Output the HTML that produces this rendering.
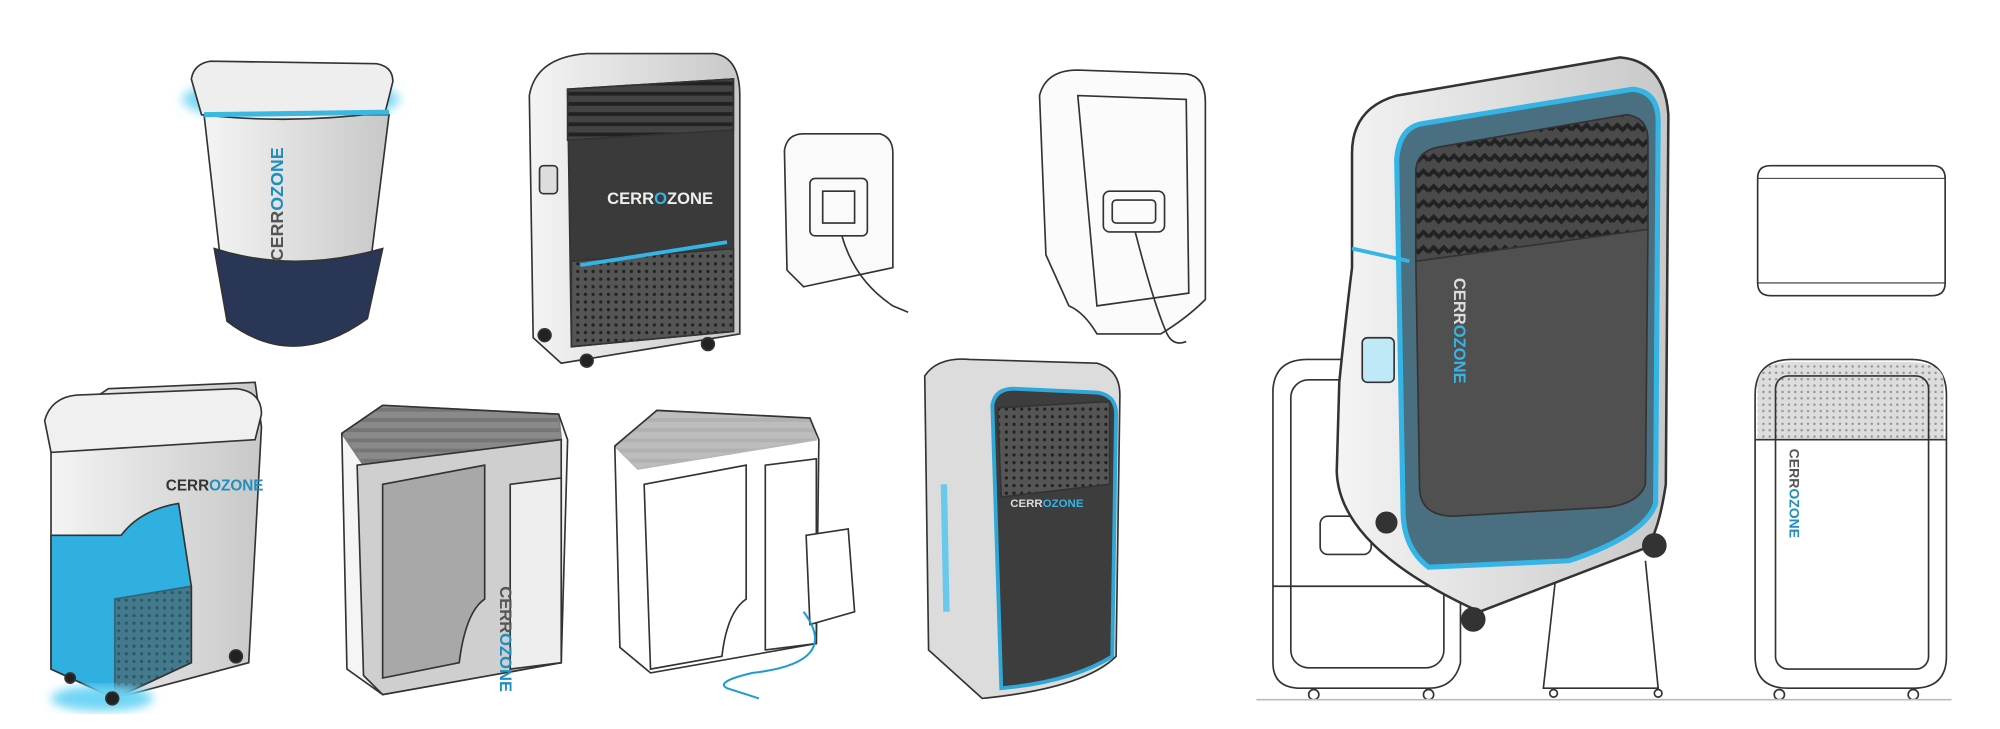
<!DOCTYPE html>
<html><head><meta charset="utf-8"><style>
html,body{margin:0;padding:0;background:#fff;width:2000px;height:729px;overflow:hidden}
svg{display:block}
text{font-family:"Liberation Sans",sans-serif;font-weight:bold}
</style></head><body>
<svg width="2000" height="729" viewBox="0 0 1568 572" preserveAspectRatio="none" xmlns="http://www.w3.org/2000/svg">
<defs>
<pattern id="mesh" width="6" height="6" patternUnits="userSpaceOnUse"><rect width="6" height="6" fill="#555"/><circle cx="3" cy="3" r="1.3" fill="#222"/></pattern>
<pattern id="lmesh" width="5" height="5" patternUnits="userSpaceOnUse"><rect width="5" height="5" fill="#ddd"/><circle cx="2.5" cy="2.5" r="1" fill="#999"/></pattern>
<pattern id="wave" width="16" height="12" patternUnits="userSpaceOnUse"><rect width="16" height="12" fill="#4a4a4a"/><path d="M0 6 L4 2 L8 6 L12 2 L16 6" stroke="#222" stroke-width="3" fill="none"/></pattern>
<pattern id="slat" width="10" height="8" patternUnits="userSpaceOnUse"><rect width="10" height="8" fill="#444"/><rect width="10" height="3" fill="#222"/></pattern>
<linearGradient id="grey" x1="0" x2="1"><stop offset="0" stop-color="#f4f4f4"/><stop offset="1" stop-color="#c8c8c8"/></linearGradient>
<filter id="blur"><feGaussianBlur stdDeviation="4"/></filter>
</defs>
<g stroke="#333" stroke-width="1.3" fill="none">

<!-- 1 top-left cylinder -->
<ellipse cx="228" cy="78" rx="85" ry="18" fill="#7fd8f3" stroke="none" filter="url(#blur)"/>
<path d="M160 90 L178 250 Q230 290 285 250 L305 90 Z" fill="url(#grey)"/>
<path d="M168 195 Q230 215 300 195 L288 250 Q230 292 178 252 Z" fill="#2a3656"/>
<path d="M150 62 Q152 50 165 48 L295 50 Q308 52 308 64 L302 88 Q230 98 158 90 Z" fill="#eeeeee"/>
<path d="M160 90 L305 88" stroke="#3bb7e0" stroke-width="4"/>
<text x="0" y="0" transform="translate(222 205) rotate(-90)" font-size="14" fill="#555" stroke="none">CERR<tspan fill="#1e8fc0">OZONE</tspan></text>

<!-- 2 tall unit -->
<path d="M415 75 Q420 45 460 42 L560 42 Q580 45 580 75 L580 262 L440 285 L418 265 Z" fill="url(#grey)"/>
<path d="M445 70 L575 62 L575 260 L448 272 Z" fill="#3a3a3a"/>
<path d="M445 70 L575 62 L575 102 L445 110 Z" fill="url(#slat)"/>
<path d="M448 205 L575 195 L575 260 L448 272 Z" fill="url(#mesh)"/>
<path d="M455 208 L570 190" stroke="#34b5e5" stroke-width="3"/>
<rect x="423" y="130" width="14" height="22" rx="3" fill="#ddd"/>
<text x="476" y="160" font-size="13" fill="#eee" stroke="none" font-weight="normal">CERR<tspan fill="#38b4e4">O</tspan>ZONE</text>
<circle cx="427" cy="263" r="5" fill="#222"/><circle cx="460" cy="283" r="5" fill="#222"/><circle cx="555" cy="270" r="5" fill="#222"/>

<!-- 3 small wall unit -->
<path d="M615 118 Q617 105 630 105 L690 105 Q700 108 700 120 L700 210 L630 225 L617 212 Z" fill="#fafafa"/>
<rect x="635" y="140" width="45" height="45" rx="4"/>
<rect x="645" y="150" width="25" height="25"/>
<path d="M660 185 Q670 220 700 240 L712 245"/>

<!-- 4 right white unit -->
<path d="M815 75 Q820 55 845 55 L930 58 Q945 60 945 80 L945 235 Q930 250 910 262 L860 262 Q850 245 838 240 L820 200 Z" fill="#fbfbfb"/>
<path d="M845 75 L930 78 L932 230 L860 240 Z"/>
<rect x="865" y="150" width="48" height="32" rx="5"/>
<rect x="872" y="157" width="34" height="18" rx="3"/>
<path d="M890 182 Q905 240 915 262 Q920 272 930 268"/>

<!-- 5 bottom-left -->
<path d="M40 335 L85 305 L200 300 L205 335 L195 520 L90 548 L40 525 Z" fill="url(#grey)"/>
<path d="M35 330 Q40 312 60 310 L185 305 Q205 307 205 325 L200 345 L40 355 Z" fill="#f0f0f0"/>
<path d="M40 420 L95 420 Q110 400 140 395 L150 460 L150 520 L90 548 L40 525 Z" fill="#2fb0e0"/>
<path d="M90 470 L150 460 L150 520 L90 548 Z" fill="url(#mesh)" opacity="0.6"/>
<ellipse cx="80" cy="548" rx="40" ry="10" fill="#6fd5f5" stroke="none" filter="url(#blur)"/>
<text x="130" y="385" font-size="12" fill="#333" stroke="none">CERR<tspan fill="#1e8fc0">OZONE</tspan></text>
<circle cx="88" cy="548" r="5" fill="#222"/><circle cx="185" cy="515" r="5" fill="#222"/><circle cx="55" cy="532" r="4" fill="#222"/>

<!-- 6 grey unit -->
<path d="M268 340 L300 318 L438 325 L445 345 L440 520 L300 545 L272 525 Z" fill="#f5f5f5"/>
<path d="M268 340 L300 318 L438 325 L440 345 L285 365 Z" fill="url(#slat)" opacity="0.6"/>
<path d="M280 365 L440 345 L440 520 L300 545 L285 530 Z" fill="#cfcfcf"/>
<path d="M300 380 L380 365 L380 470 Q365 480 360 520 L300 532 Z" fill="#a8a8a8"/>
<path d="M400 380 L440 375 L440 520 L400 525 Z" fill="#eee"/>
<text x="0" y="0" transform="translate(392 460) rotate(90)" font-size="13" fill="#555" stroke="none">CERR<tspan fill="#1e8fc0">OZONE</tspan></text>

<!-- 7 white unit -->
<path d="M482 350 L515 322 L635 328 L642 345 L640 505 L510 528 L486 508 Z" fill="#fff"/>
<path d="M482 350 L515 322 L635 328 L640 345 L500 368 Z" fill="url(#slat)" opacity="0.35"/>
<path d="M505 380 L585 365 L585 470 Q570 480 566 515 L510 525 Z"/>
<path d="M600 365 L640 360 L640 505 L600 510 Z"/>
<path d="M632 420 L665 415 L670 480 L635 490 Z" fill="#fff"/>
<path d="M630 480 Q660 520 590 528 Q560 535 570 540 L595 548" stroke="#1e9bd0" stroke-width="1.6"/>

<!-- 8 dark unit -->
<path d="M725 295 Q735 280 760 282 L860 285 Q878 290 878 310 L875 515 Q850 540 770 548 L728 510 Z" fill="#dcdcdc"/>
<path d="M778 318 Q780 305 795 305 L860 308 Q875 310 875 325 L872 515 Q840 535 785 540 Z" fill="#3d3d3d" stroke="#2fa8d8" stroke-width="3"/>
<path d="M782 320 L870 315 L870 380 L785 390 Z" fill="url(#mesh)"/>
<path d="M740 380 L742 480" stroke="#38c0ef" stroke-width="5" opacity="0.7"/>
<text x="792" y="398" font-size="9" fill="#ddd" stroke="none" font-weight="normal">CERR<tspan fill="#38b4e4">OZONE</tspan></text>

<!-- 10 back outline -->
<path d="M998 305 Q1000 282 1025 282 L1125 282 Q1145 284 1145 305 L1145 520 Q1140 540 1120 540 L1020 540 Q998 540 998 520 Z" fill="#fff"/>
<rect x="1012" y="298" width="120" height="226" rx="14"/>
<rect x="1035" y="405" width="40" height="30" rx="6"/>
<path d="M998 460 L1145 460"/>
<circle cx="1030" cy="545" r="4"/><circle cx="1120" cy="545" r="4"/>
<path d="M1220 450 L1210 540 L1300 540 L1290 440"/>
<circle cx="1218" cy="544" r="3"/><circle cx="1300" cy="544" r="3"/>

<!-- 9 big unit -->
<path d="M1060 120 Q1060 85 1095 75 L1270 45 Q1305 48 1308 90 L1306 380 Q1300 420 1290 430 L1160 480 Q1050 430 1048 370 L1050 300 Q1055 250 1060 210 Z" fill="url(#grey)" stroke-width="2"/>
<path d="M1095 125 Q1097 100 1115 97 L1280 70 Q1300 72 1300 95 L1298 395 Q1290 420 1230 440 L1120 445 Q1100 430 1100 400 Z" fill="#4a6f80" stroke="#34b5e5" stroke-width="4"/>
<path d="M1110 135 Q1110 118 1130 115 L1275 90 Q1292 92 1292 110 L1292 180 L1110 205 Z" fill="url(#wave)"/>
<path d="M1110 205 L1292 180 L1290 380 Q1285 395 1260 398 L1140 405 Q1115 405 1113 385 Z" fill="#505050"/>
<path d="M1060 195 L1105 205" stroke="#34b5e5" stroke-width="3"/>
<rect x="1068" y="265" width="25" height="35" rx="4" fill="#bfe9f7"/>
<text x="0" y="0" transform="translate(1140 218) rotate(90)" font-size="13" fill="#ddd" stroke="none">CERR<tspan fill="#38b4e4">OZONE</tspan></text>
<circle cx="1155" cy="486" r="9" fill="#333"/><circle cx="1297" cy="428" r="9" fill="#333"/><circle cx="1087" cy="410" r="8" fill="#333"/>

<!-- 11 right views -->
<path d="M1378 140 Q1378 130 1388 130 L1515 130 Q1525 130 1525 140 L1525 222 Q1525 232 1515 232 L1388 232 Q1378 232 1378 222 Z" fill="#fff"/>
<path d="M1378 140 L1525 140 M1378 222 L1525 222" stroke-width="0.8"/>
<path d="M1376 310 Q1376 282 1405 282 L1498 282 Q1526 282 1526 310 L1526 515 Q1526 540 1500 540 L1402 540 Q1376 540 1376 515 Z" fill="#fff"/>
<path d="M1378 300 Q1380 284 1405 284 L1498 284 Q1524 285 1524 300 L1524 345 L1378 345 Z" fill="url(#lmesh)" stroke="none"/>
<rect x="1392" y="295" width="120" height="230" rx="10"/>
<path d="M1376 345 L1526 345"/>
<text x="0" y="0" transform="translate(1403 352) rotate(90)" font-size="11" fill="#555" stroke="none">CERR<tspan fill="#1e8fc0">OZONE</tspan></text>
<circle cx="1395" cy="545" r="4"/><circle cx="1500" cy="545" r="4"/>
<path d="M985 549 L1530 549" stroke="#bbb"/>
</g>
</svg>
</body></html>
